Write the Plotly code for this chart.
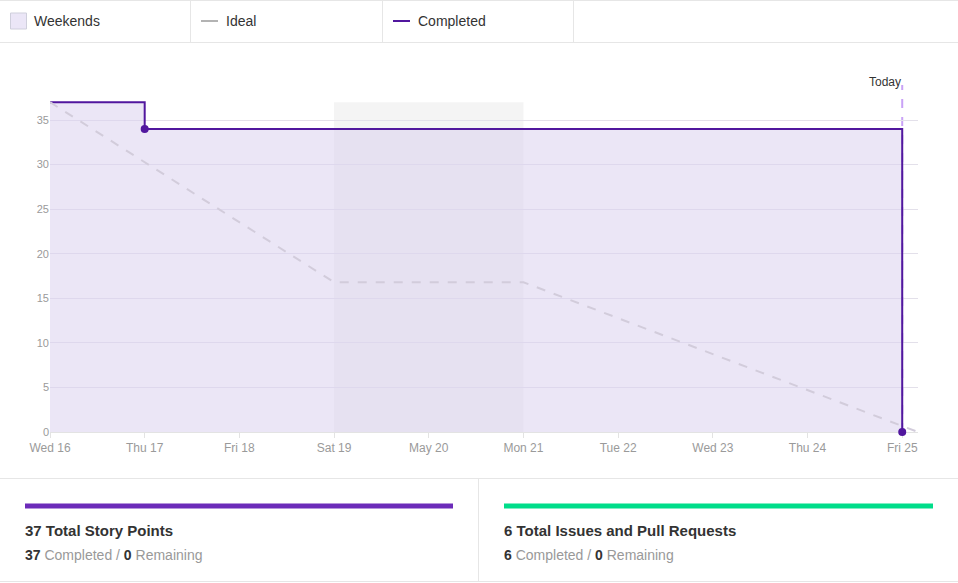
import plotly.graph_objects as go

# data
days = ["2018-05-16", "2018-05-17", "2018-05-18", "2018-05-19", "2018-05-20",
        "2018-05-21", "2018-05-22", "2018-05-23", "2018-05-24", "2018-05-25"]
day_labels = ["Wed 16", "Thu 17", "Fri 18", "Sat 19", "May 20",
              "Mon 21", "Tue 22", "Wed 23", "Thu 24", "Fri 25"]

completed_x = ["2018-05-16", "2018-05-17", "2018-05-25", "2018-05-25"]
completed_y = [37, 34, 34, 0]
marker_x = ["2018-05-17", "2018-05-25"]
marker_y = [34, 0]

ideal_x = ["2018-05-16", "2018-05-19", "2018-05-21", "2018-05-25 04:00"]
ideal_y = [37, 16.8, 16.8, 0]

weekend_start, weekend_end = "2018-05-19", "2018-05-21"
today = "2018-05-25"
total_points = 37
x_end = "2018-05-25 04:00"

PURPLE = "#51179e"
FONT = "Liberation Sans, Arial, sans-serif"

# plot area in pixels
L, R, T, B = 50, 918, 85, 432


def px(x):
    return (x - L) / (R - L)


def py(y):
    return (B - y) / (B - T)


fig = go.Figure()

fig.add_trace(go.Scatter(
    x=completed_x, y=completed_y, mode="lines", line_shape="hv",
    line=dict(color=PURPLE, width=2), fill="tozeroy",
    fillcolor="rgba(219,210,239,0.55)", hoverinfo="skip", showlegend=False))
fig.add_trace(go.Scatter(
    x=ideal_x, y=ideal_y, mode="lines",
    line=dict(color="#d2ccdb", width=2, dash="dash"), hoverinfo="skip",
    showlegend=False))
fig.add_trace(go.Scatter(
    x=marker_x, y=marker_y, mode="markers",
    marker=dict(color=PURPLE, size=8), cliponaxis=False, showlegend=False))

shapes = [
    # weekend band
    dict(type="rect", xref="x", yref="y", x0=weekend_start, x1=weekend_end,
         y0=0, y1=total_points, fillcolor="#f4f4f4", line_width=0, layer="below"),
    # today marker
    dict(type="line", xref="x", yref="paper", x0=today, x1=today, y0=0, y1=1,
         line=dict(color="#c9a2f6", width=2, dash="dash"), layer="below"),
]
for y in (0.5, 42.5, 478.5, 581.5):
    shapes.append(dict(type="line", xref="paper", yref="paper", x0=px(0), x1=px(958),
                       y0=py(y), y1=py(y), line=dict(color="#e6e6e6", width=1)))
for x in (190.5, 382.5, 573.5):
    shapes.append(dict(type="line", xref="paper", yref="paper", x0=px(x), x1=px(x),
                       y0=py(1), y1=py(42), line=dict(color="#e6e6e6", width=1)))
shapes.append(dict(type="line", xref="paper", yref="paper", x0=px(478.5), x1=px(478.5),
                   y0=py(479), y1=py(581), line=dict(color="#e6e6e6", width=1)))
# legend swatches
shapes.append(dict(type="rect", xref="paper", yref="paper", x0=px(10.5), x1=px(26.5),
                   y0=py(13), y1=py(29), fillcolor="#ebe6f7",
                   line=dict(color="#cfcfdc", width=1)))
shapes.append(dict(type="line", xref="paper", yref="paper", x0=px(201), x1=px(218),
                   y0=py(21), y1=py(21), line=dict(color="#b3b3b3", width=2)))
shapes.append(dict(type="line", xref="paper", yref="paper", x0=px(393), x1=px(410),
                   y0=py(21), y1=py(21), line=dict(color=PURPLE, width=2)))
# progress bars
shapes.append(dict(type="line", xref="paper", yref="paper", x0=px(25), x1=px(453),
                   y0=py(506), y1=py(506), line=dict(color="#6c2bb9", width=5)))
shapes.append(dict(type="line", xref="paper", yref="paper", x0=px(504), x1=px(933),
                   y0=py(506), y1=py(506), line=dict(color="#00dd8a", width=5)))


def note(x, y, text, size=14, color="#333", xanchor="left"):
    return dict(xref="paper", yref="paper", x=px(x), y=py(y), text=text,
                showarrow=False, xanchor=xanchor, yanchor="middle",
                font=dict(family=FONT, size=size, color=color))


annotations = [
    note(32, 21, "Weekends"),
    note(224, 21, "Ideal"),
    note(416, 21, "Completed"),
    note(903, 82, "Today", size=12, color="#333", xanchor="right"),
    note(23, 530, "<b>%d Total Story Points</b>" % total_points, size=15),
    note(23, 555, "<b>37</b> <span style='color:#999'>Completed /</span> <b>0</b> "
         "<span style='color:#999'>Remaining</span>", size=14),
    note(502, 530, "<b>6 Total Issues and Pull Requests</b>", size=15),
    note(502, 555, "<b>6</b> <span style='color:#999'>Completed /</span> <b>0</b> "
         "<span style='color:#999'>Remaining</span>", size=14),
]

fig.update_layout(
    width=958, height=583, margin=dict(l=L, r=958 - R, t=T, b=583 - B),
    paper_bgcolor="white", plot_bgcolor="white",
    font=dict(family=FONT, color="#333"),
    shapes=shapes, annotations=annotations, showlegend=False,
    xaxis=dict(type="date", range=[days[0], x_end], tickvals=days, ticktext=day_labels,
               showgrid=False, showline=True, linecolor="#e3e3e3", ticks="outside",
               ticklen=5, tickcolor="#e3e3e3", tickfont=dict(size=12, color="#9a9a9a"),
               zeroline=False, fixedrange=True, layer="below traces"),
    yaxis=dict(range=[0, (B - T) / ((432 - 120) / 35)], tickvals=[0, 5, 10, 15, 20, 25, 30, 35],
               showgrid=True, gridcolor="#e3e0ea", zeroline=False, showline=False,
               tickfont=dict(size=11, color="#9a9a9a"), ticks="", fixedrange=True,
               layer="below traces"),
)

fig.write_html("out.html", config={"displayModeBar": False},
               post_script="document.body.style.margin='0';")
